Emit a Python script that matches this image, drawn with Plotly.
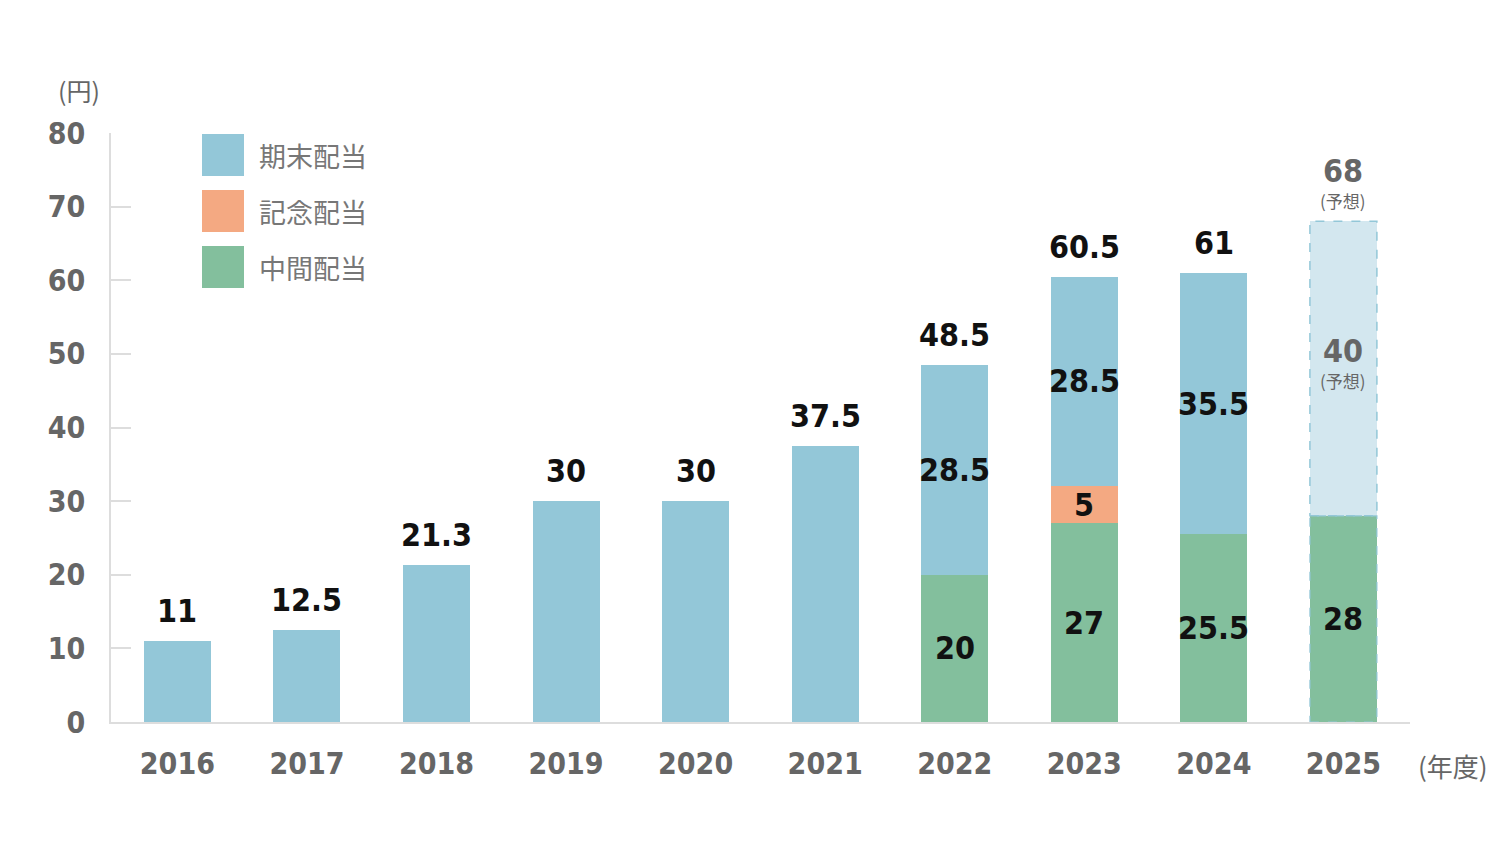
import plotly.graph_objects as go

years = ["2016", "2017", "2018", "2019", "2020", "2021", "2022", "2023", "2024", "2025"]
interim = [0, 0, 0, 0, 0, 0, 20, 27, 25.5, 28]          # 中間配当
commemorative = [0, 0, 0, 0, 0, 0, 0, 5, 0, 0]          # 記念配当
year_end = [11, 12.5, 21.3, 30, 30, 37.5, 28.5, 28.5, 35.5, 40]  # 期末配当
totals = ["11", "12.5", "21.3", "30", "30", "37.5", "48.5", "60.5", "61", "68"]
forecast_index = 9
y_ticks = [0, 10, 20, 30, 40, 50, 60, 70, 80]

C_BLUE = "#93C7D8"
C_BLUE_LIGHT = "#D3E7EF"
C_ORANGE = "#F4A982"
C_GREEN = "#83BF9D"
GRAY = "#666666"
NUM_FONT = "DejaVu Sans Condensed, Liberation Sans Narrow, Roboto Condensed, Roboto"
JP_FONT = "Noto Sans CJK JP"
BAR_W = 0.517

# page offset (browser default body margin)
OFF = 8
PL, PR, PT, PB = 111, 1410, 133, 722  # plot area in screen pixels
PW, PH = PR - PL, PB - PT


def px(x):
    return (x - PL) / PW


def py(y):
    return (PB - y) / PH


xs = list(range(len(years)))
blue_colors = [C_BLUE_LIGHT if i == forecast_index else C_BLUE for i in xs]

fig = go.Figure()
fig.add_trace(go.Bar(x=xs, y=interim, marker=dict(color=C_GREEN, line=dict(width=0)),
                     width=BAR_W, name="中間配当", hoverinfo="y"))
fig.add_trace(go.Bar(x=xs, y=commemorative, marker=dict(color=C_ORANGE, line=dict(width=0)),
                     width=BAR_W, name="記念配当", hoverinfo="y"))
fig.add_trace(go.Bar(x=xs, y=year_end, marker=dict(color=blue_colors, line=dict(width=0)),
                     width=BAR_W, name="期末配当", hoverinfo="y"))

num_black = dict(family=NUM_FONT, size=32, color="#111111", weight="bold")
num_gray = dict(family=NUM_FONT, size=32, color=GRAY, weight="bold")
tick_font = dict(family=NUM_FONT, size=30, color=GRAY, weight="bold")
jp_small = dict(family=JP_FONT, size=17, color=GRAY)

annotations = []
shapes = []
for i in xs:
    base = 0
    segs = [(interim[i], "green"), (commemorative[i], "orange"), (year_end[i], "blue")]
    has_multi = interim[i] > 0
    for val, kind in segs:
        if val > 0:
            mid = base + val / 2
            label = f"{val:g}"
            if i == forecast_index and kind == "blue":
                annotations.append(dict(x=i, y=mid, xref="x", yref="y", text=label, showarrow=False,
                                        xanchor="center", yanchor="middle", yshift=18, font=num_gray))
                annotations.append(dict(x=i, y=mid, xref="x", yref="y", text="(予想)", showarrow=False,
                                        xanchor="center", yanchor="middle", yshift=-12, font=jp_small))
            elif has_multi:
                annotations.append(dict(x=i, y=mid, xref="x", yref="y", text=label, showarrow=False,
                                        xanchor="center", yanchor="middle", font=num_black))
            base += val
    top = interim[i] + commemorative[i] + year_end[i]
    if i == forecast_index:
        annotations.append(dict(x=i, y=top, xref="x", yref="y", text=totals[i], showarrow=False,
                                xanchor="center", yanchor="middle", yshift=50, font=num_gray))
        annotations.append(dict(x=i, y=top, xref="x", yref="y", text="(予想)", showarrow=False,
                                xanchor="center", yanchor="middle", yshift=21, font=jp_small))
        # dashed outlines of forecast segments
        shapes.append(dict(type="rect", xref="x", yref="y", x0=i - BAR_W / 2, x1=i + BAR_W / 2,
                           y0=interim[i], y1=top, line=dict(color=C_BLUE, width=1.5, dash="dash")))
        shapes.append(dict(type="rect", xref="x", yref="y", x0=i - BAR_W / 2, x1=i + BAR_W / 2,
                           y0=0, y1=interim[i], line=dict(color=C_BLUE, width=1.2, dash="dash")))
    else:
        annotations.append(dict(x=i, y=top, xref="x", yref="y", text=totals[i], showarrow=False,
                                xanchor="center", yanchor="middle", yshift=30, font=num_black))

# manual legend
legend_items = [("期末配当", C_BLUE), ("記念配当", C_ORANGE), ("中間配当", C_GREEN)]
for k, (name, col) in enumerate(legend_items):
    y_top = 134 + k * 56
    shapes.append(dict(type="rect", xref="paper", yref="paper",
                       x0=px(202), x1=px(244), y0=py(y_top + 42), y1=py(y_top),
                       fillcolor=col, line=dict(width=0)))
    annotations.append(dict(x=px(257), y=py(y_top + 21), xref="paper", yref="paper",
                            xanchor="left", yanchor="middle", text=name, showarrow=False,
                            font=dict(family=JP_FONT, size=27, color="#777777")))

annotations.append(dict(x=px(79), y=py(90), xref="paper", yref="paper", xanchor="center", yanchor="middle",
                        text="(円)", showarrow=False, font=dict(family=JP_FONT, size=25, color=GRAY)))
annotations.append(dict(x=px(1453), y=py(765), xref="paper", yref="paper", xanchor="center", yanchor="middle",
                        text="(年度)", showarrow=False, font=dict(family=JP_FONT, size=26, color=GRAY)))

W, H = 1500 - OFF, 864 - OFF
fig.update_layout(
    barmode="stack",
    width=W, height=H,
    margin=dict(l=PL - OFF, r=W - (PR - OFF), t=PT - OFF, b=H - (PB - OFF)),
    paper_bgcolor="white", plot_bgcolor="white",
    showlegend=False,
    annotations=annotations,
    shapes=shapes,
    xaxis=dict(tickmode="array", tickvals=xs, ticktext=years, range=[-0.5125, 9.514],
               showline=True, linecolor="#dddddd", linewidth=1.5, ticks="", showgrid=False,
               zeroline=False, ticklabelstandoff=14,
               tickfont=tick_font),
    yaxis=dict(range=[0, 80], tickmode="array", tickvals=y_ticks, showline=True, linecolor="#dddddd",
               linewidth=1.5, ticks="inside", ticklen=20, tickcolor="#dddddd", tickwidth=1.5,
               showgrid=False, zeroline=False, ticklabelstandoff=18,
               tickfont=tick_font),
)

fig.write_html("out.html")
